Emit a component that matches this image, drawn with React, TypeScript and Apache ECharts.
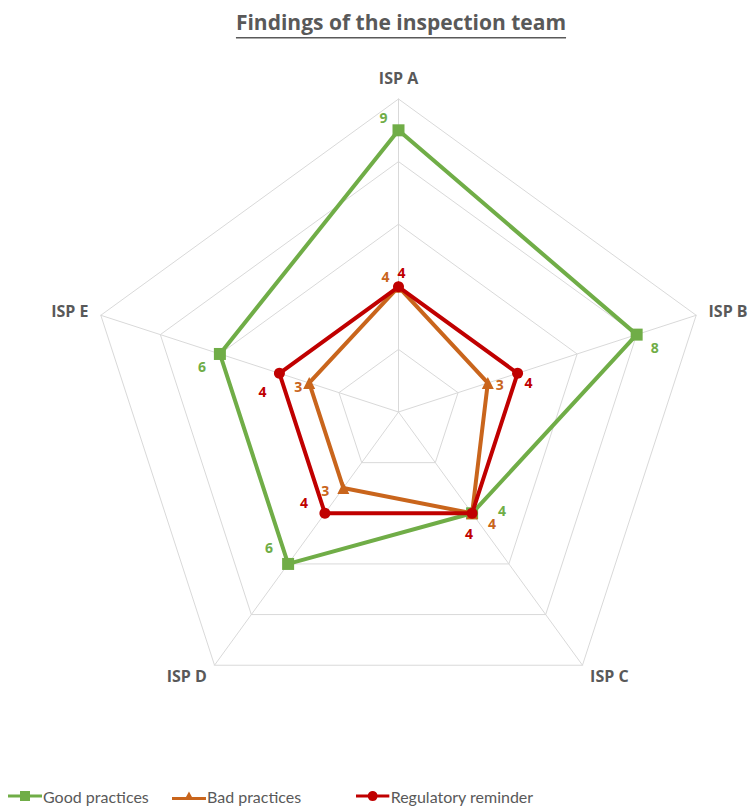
import React, { useEffect, useRef } from "react";
import * as echarts from "echarts";

const titleText = "Findings of the inspection team";
const indicators = ["ISP A", "ISP B", "ISP C", "ISP D", "ISP E"];
const seriesNames = ["Good practices", "Bad practices", "Regulatory reminder"];
const goodPractices = [9, 8, 4, 6, 6];
const badPractices = [4, 3, 4, 3, 3];
const regulatoryReminder = [4, 4, 4, 4, 4];
const axisMax = 10;

// display order (ECharts places indicators counter-clockwise): A, E, D, C, B
const displayOrder = [0, 4, 3, 2, 1];

// styles
const colors = ["#70AD47", "#C9651C", "#C00000"];
const symbols = ["rect", "triangle", "circle"];
const symbolSizes = [12, 12, 11];
// label offsets [dx, dy] for each series and each indicator (A..E)
const labelOffsets = [
  [[-15, -13], [18, 13], [30, -3], [-19, -16], [-18, 13]],
  [[-13, -10], [12, 2], [20, 10], [-18, 3], [-11, 4]],
  [[3, -14], [11, 9], [-3, 20], [-21, -11], [-17, 18]],
];
const legendLefts = [8, 172, 356];
const legendIcons = [
  "path://M0,3.5 L12,3.5 L12,0 L22,0 L22,3.5 L34,3.5 L34,6.5 L22,6.5 L22,10 L12,10 L12,6.5 L0,6.5 Z",
  "path://M0,6 L14,6 L17,0.5 L20,6 L34,6 L34,9 L0,9 L0,6 Z M0,0 L0,0.01 Z M34,10 L34,10.01 Z",
  "path://M0,3.5 L12.2,3.5 A5,5 0 0 1 21.8,3.5 L34,3.5 L34,6.5 L21.8,6.5 A5,5 0 0 1 12.2,6.5 L0,6.5 Z",
];

const textColor = "#595959";
const gridColor = "#D9D9D9";
const font = "'Open Sans', 'Noto Sans', sans-serif";
const legendFont = "Lato, 'Open Sans', sans-serif";

export default function App() {
  const ref = useRef<HTMLDivElement>(null);
  useEffect(() => {
    if (!ref.current) return;
    const chart = echarts.init(ref.current, null, { renderer: "svg" });
    const values = [goodPractices, badPractices, regulatoryReminder];
    const ordered = (arr: any[]) => displayOrder.map((i) => arr[i]);

    const titleSize = 21;
    const cv = document.createElement("canvas");
    const ctx = cv.getContext("2d");
    let tw = 329;
    if (ctx) {
      ctx.font = `bold ${titleSize}px 'Open Sans'`;
      tw = ctx.measureText(titleText).width;
    }
    const cx = 401;

    const mainSeries = values.map((vals, s) => ({
      type: "radar",
      name: seriesNames[s],
      symbol: symbols[s],
      symbolSize: symbolSizes[s],
      itemStyle: { color: colors[s] },
      lineStyle: { color: colors[s], width: 4 },
      label: { show: false },
      z: 2 + s,
      data: [{ name: seriesNames[s], value: ordered(vals) }],
    }));

    const labelSeries: any[] = [];
    values.forEach((vals, s) => {
      displayOrder.forEach((orig, dim) => {
        labelSeries.push({
          type: "radar",
          name: `${seriesNames[s]} label ${orig}`,
          symbol: "circle",
          symbolSize: 1,
          silent: true,
          z: 10,
          itemStyle: { color: "rgba(0,0,0,0)" },
          lineStyle: { width: 0, opacity: 0 },
          label: {
            show: true,
            position: "inside",
            offset: labelOffsets[s][orig],
            color: colors[s],
            fontWeight: "bold",
            fontSize: 14,
            fontFamily: font,
            formatter: (p: any) => (p.dimensionIndex === dim ? String(p.value) : ""),
          },
          data: [{ name: `${seriesNames[s]} label ${orig}`, value: ordered(vals) }],
        });
      });
    });

    chart.setOption({
      animation: false,
      backgroundColor: "#ffffff",
      graphic: [
        {
          type: "text",
          x: cx,
          y: 22,
          style: {
            text: titleText,
            fontFamily: font,
            fontSize: titleSize,
            fontWeight: "bold",
            fill: textColor,
            textAlign: "center",
            textVerticalAlign: "middle",
          },
        },
        {
          type: "rect",
          shape: { x: cx - tw / 2, y: 37, width: tw, height: 1.5 },
          style: { fill: textColor },
        },
      ],
      legend: seriesNames.map((n, s) => ({
        data: [{ name: n, icon: legendIcons[s] }],
        left: legendLefts[s],
        top: 788,
        padding: 0,
        itemWidth: 34,
        itemHeight: 10,
        itemGap: 4,
        selectedMode: false,
        itemStyle: { borderWidth: 0 },
        textStyle: { fontFamily: legendFont, fontSize: 16, color: textColor, padding: [0, 0, 0, -4] },
      })),
      radar: {
        center: [398.5, 412],
        radius: 313,
        startAngle: 90,
        splitNumber: 5,
        shape: "polygon",
        axisNameGap: 13,
        axisName: { color: textColor, fontWeight: "bold", fontSize: 16, fontFamily: font },
        splitLine: { lineStyle: { color: gridColor, width: 1 } },
        splitArea: { show: false },
        axisLine: { lineStyle: { color: gridColor, width: 1 } },
        indicator: ordered(indicators).map((n: string) => ({ name: n, max: axisMax, min: 0 })),
      },
      series: [...mainSeries, ...labelSeries],
    });
    return () => chart.dispose();
  }, []);
  return (
    <div
      ref={ref}
      style={{ position: "fixed", left: 0, top: 0, width: 748, height: 809, background: "#fff" }}
    />
  );
}
